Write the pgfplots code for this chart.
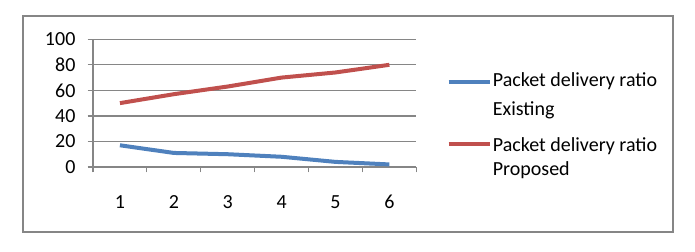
\documentclass[border=0pt]{standalone}
\usepackage{pgfplots}
\pgfplotsset{compat=1.18}
\usepackage{fontspec}
\setmainfont{Carlito}
\definecolor{exblue}{RGB}{79,129,189}
\definecolor{prred}{RGB}{192,80,77}
\definecolor{gridgray}{RGB}{134,134,134}
\begin{document}
\fontsize{15}{18}\selectfont
\begin{tikzpicture}
\path[use as bounding box] (0,0) rectangle (521.25pt,189pt);
\draw[gridgray, line width=1.1pt] (17.25pt,15pt) rectangle (504.75pt,177pt);
\begin{axis}[
  at={(69.75pt,63.75pt)}, anchor=south west,
  scale only axis, width=242.5pt, height=95.8pt,
  xmin=0.5, xmax=6.5, ymin=0, ymax=100,
  axis x line=bottom, axis y line=left,
  axis line style={gridgray, line width=1.1pt, -},
  xtick={1,2,3,4,5,6},
  major x tick style={draw=none},
  minor xtick={0.5,1.5,2.5,3.5,4.5,5.5,6.5},
  ytick={0,20,40,60,80,100},
  ymajorgrids,
  grid style={gridgray, line width=0.9pt},
  tick style={gridgray, line width=0.9pt},
  tick align=outside,
  major tick length=4pt, minor tick length=4pt,
  /pgf/number format/assume math mode=true,
  ticklabel style={font=\fontsize{15}{18}\selectfont, text=black},
  xticklabel style={yshift=-12pt},
  yticklabel style={xshift=-4pt},
  legend style={at={(axis description cs:1.0926,0.76)}, anchor=north west,
    draw=none, fill=none, inner sep=0pt, font=\fontsize{15}{18}\selectfont,
    nodes={inner sep=1pt, text height=11pt, text depth=4pt}, row sep=4.75pt},
  legend cell align=left,
  legend image code/.code={\draw[#1, line width=3pt] (0pt,0pt) -- (30.75pt,0pt);},
]
\addplot[exblue, line width=3pt] coordinates {(1,17)(2,11)(3,10)(4,8)(5,4)(6,2)};
\addlegendentry{Packet delivery ratio}
\addlegendimage{empty legend}
\addlegendentry[text depth=9.5pt]{Existing}
\addplot[prred, line width=3pt] coordinates {(1,50)(2,57)(3,63)(4,70)(5,74)(6,80)};
\addlegendentry[text depth=0pt]{Packet delivery ratio}
\addlegendimage{empty legend}
\addlegendentry{Proposed}
\end{axis}
\end{tikzpicture}
\end{document}
